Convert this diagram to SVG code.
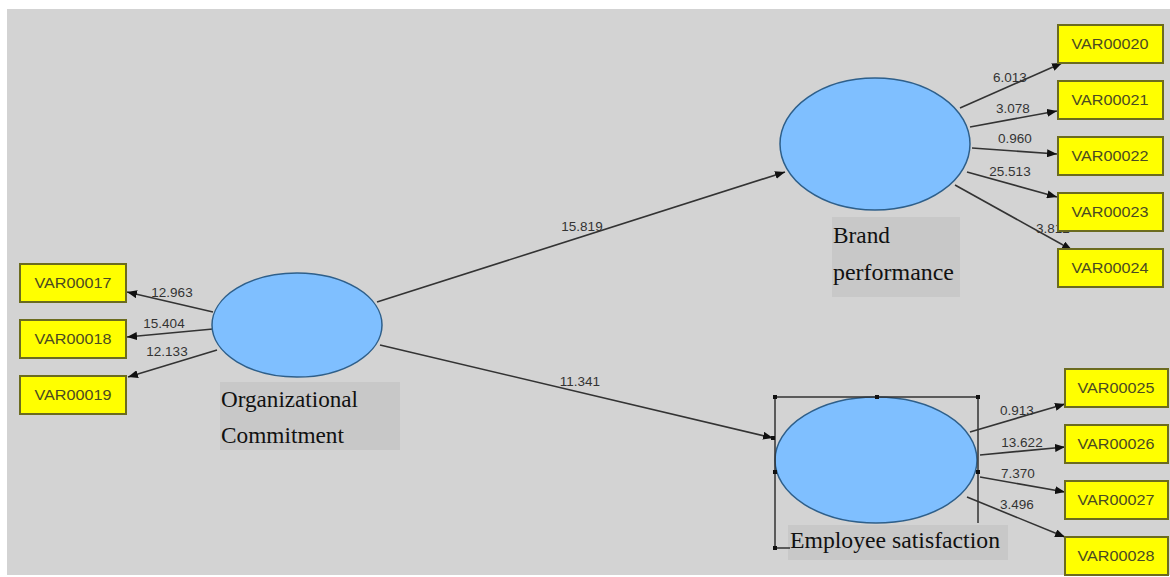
<svg xmlns="http://www.w3.org/2000/svg" width="1170" height="577" viewBox="0 0 1170 577">
<defs>
<marker id="ah" viewBox="0 0 10 8" refX="10" refY="4" markerWidth="10" markerHeight="8" markerUnits="userSpaceOnUse" orient="auto">
<path d="M0,0 L10,4 L0,8 z" fill="#111"/>
</marker>
<style>
.bg{fill:#d3d3d3}
.lat{fill:#7fbfff;stroke:#2e5f8a;stroke-width:1.5}
.lab{fill:#c8c8c8}
.ltxt{font-family:"Liberation Serif","Times New Roman",serif;font-size:23px;fill:#111}
.box{fill:#ffff00;stroke:#6b6b1f;stroke-width:2}
.btxt{font-family:"Liberation Sans",Arial,sans-serif;font-size:15px;fill:#4a4a22;text-anchor:middle}
.num{font-family:"Liberation Sans",Arial,sans-serif;font-size:13.5px;fill:#333;text-anchor:middle}
.con{stroke:#333;stroke-width:1.6;fill:none;marker-end:url(#ah)}
.sel{stroke:#333;stroke-width:1.5;fill:none}
.hdl{fill:#111}
</style>
</defs>
<rect x="0" y="0" width="1170" height="577" fill="#ffffff"/>
<rect class="bg" x="7" y="9" width="1163" height="566"/>

<g id="connectors">
<line class="con" x1="377" y1="302" x2="785" y2="172"/>
<line class="con" x1="380" y1="345" x2="773" y2="438"/>
<line class="con" x1="213" y1="312" x2="127" y2="292"/>
<line class="con" x1="213" y1="329" x2="127" y2="337"/>
<line class="con" x1="217" y1="350" x2="128" y2="377"/>
<line class="con" x1="960" y1="108" x2="1062" y2="63"/>
<line class="con" x1="970" y1="127" x2="1057" y2="111"/>
<line class="con" x1="972" y1="148" x2="1057" y2="154"/>
<line class="con" x1="967" y1="172" x2="1057" y2="197"/>
<line class="con" x1="955" y1="185" x2="1072" y2="250"/>
<line class="con" x1="970" y1="432" x2="1065" y2="404"/>
<line class="con" x1="980" y1="455" x2="1065" y2="447"/>
<line class="con" x1="980" y1="477" x2="1065" y2="492"/>
<line class="con" x1="967" y1="497" x2="1065" y2="537"/>
<text class="num" x="582" y="231">15.819</text>
<text class="num" x="580" y="386">11.341</text>
<text class="num" x="172" y="297">12.963</text>
<text class="num" x="164" y="328">15.404</text>
<text class="num" x="167" y="356">12.133</text>
<text class="num" x="1010" y="82">6.013</text>
<text class="num" x="1013" y="113">3.078</text>
<text class="num" x="1015" y="143">0.960</text>
<text class="num" x="1010" y="176">25.513</text>
<text class="num" x="1053" y="233">3.812</text>
<text class="num" x="1017" y="415">0.913</text>
<text class="num" x="1022" y="447">13.622</text>
<text class="num" x="1018" y="478">7.370</text>
<text class="num" x="1017" y="509">3.496</text>
</g>

<g id="org-commitment">
<ellipse class="lat" cx="297" cy="325" rx="85" ry="52"/>
<rect class="lab" x="220" y="382" width="180" height="68"/>
<text class="ltxt" x="221" y="407" textLength="137" lengthAdjust="spacingAndGlyphs">Organizational</text>
<text class="ltxt" x="221" y="443" textLength="123" lengthAdjust="spacingAndGlyphs">Commitment</text>
</g>

<g id="brand-performance">
<ellipse class="lat" cx="875" cy="144" rx="95" ry="66"/>
<rect class="lab" x="832" y="217" width="128" height="80"/>
<text class="ltxt" x="833" y="243" textLength="57" lengthAdjust="spacingAndGlyphs">Brand</text>
<text class="ltxt" x="833" y="280" textLength="121" lengthAdjust="spacingAndGlyphs">performance</text>
</g>

<g id="employee-satisfaction">
<ellipse class="lat" cx="876" cy="460" rx="101" ry="63"/>
<rect class="lab" x="788" y="525" width="220" height="35"/>
<text class="ltxt" x="790" y="548" textLength="210" lengthAdjust="spacingAndGlyphs">Employee satisfaction</text>
<path class="sel" d="M775,548 V397 H978 V523 M775,548 H790"/>
<rect class="hdl" x="773" y="395" width="4" height="4"/>
<rect class="hdl" x="875" y="395" width="4" height="4"/>
<rect class="hdl" x="976" y="395" width="4" height="4"/>
<rect class="hdl" x="771" y="436" width="4" height="4"/>
<rect class="hdl" x="773" y="470" width="4" height="4"/>
<rect class="hdl" x="976" y="470" width="4" height="4"/>
<rect class="hdl" x="773" y="546" width="4" height="4"/>
</g>

<g id="VAR00017"><rect class="box" x="20" y="264" width="106" height="38"/><text class="btxt" x="73" y="288" textLength="77" lengthAdjust="spacingAndGlyphs">VAR00017</text></g>
<g id="VAR00018"><rect class="box" x="20" y="320" width="106" height="38"/><text class="btxt" x="73" y="344" textLength="77" lengthAdjust="spacingAndGlyphs">VAR00018</text></g>
<g id="VAR00019"><rect class="box" x="20" y="376" width="106" height="38"/><text class="btxt" x="73" y="400" textLength="77" lengthAdjust="spacingAndGlyphs">VAR00019</text></g>

<g id="VAR00020"><rect class="box" x="1058" y="25" width="105" height="38"/><text class="btxt" x="1110" y="49" textLength="77" lengthAdjust="spacingAndGlyphs">VAR00020</text></g>
<g id="VAR00021"><rect class="box" x="1058" y="81" width="105" height="38"/><text class="btxt" x="1110" y="105" textLength="77" lengthAdjust="spacingAndGlyphs">VAR00021</text></g>
<g id="VAR00022"><rect class="box" x="1058" y="137" width="105" height="38"/><text class="btxt" x="1110" y="161" textLength="77" lengthAdjust="spacingAndGlyphs">VAR00022</text></g>
<g id="VAR00023"><rect class="box" x="1058" y="193" width="105" height="38"/><text class="btxt" x="1110" y="217" textLength="77" lengthAdjust="spacingAndGlyphs">VAR00023</text></g>
<g id="VAR00024"><rect class="box" x="1058" y="249" width="105" height="38"/><text class="btxt" x="1110" y="273" textLength="77" lengthAdjust="spacingAndGlyphs">VAR00024</text></g>

<g id="VAR00025"><rect class="box" x="1065" y="369" width="103" height="38"/><text class="btxt" x="1116" y="393" textLength="77" lengthAdjust="spacingAndGlyphs">VAR00025</text></g>
<g id="VAR00026"><rect class="box" x="1065" y="425" width="103" height="38"/><text class="btxt" x="1116" y="449" textLength="77" lengthAdjust="spacingAndGlyphs">VAR00026</text></g>
<g id="VAR00027"><rect class="box" x="1065" y="481" width="103" height="38"/><text class="btxt" x="1116" y="505" textLength="77" lengthAdjust="spacingAndGlyphs">VAR00027</text></g>
<g id="VAR00028"><rect class="box" x="1065" y="537" width="103" height="38"/><text class="btxt" x="1116" y="561" textLength="77" lengthAdjust="spacingAndGlyphs">VAR00028</text></g>
</svg>
